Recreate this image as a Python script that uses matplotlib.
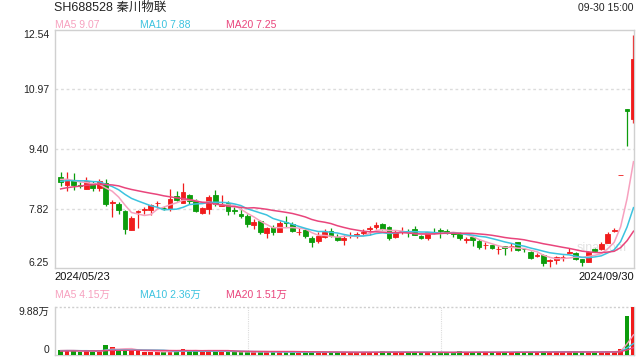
import matplotlib
matplotlib.use("Agg")
import matplotlib.pyplot as plt
import numpy as np
import pandas as pd

plt.rcParams['font.family'] = ['Liberation Sans', 'Noto Sans CJK SC', 'DejaVu Sans']

# ---- data ----
title = "SH688528 秦川物联"
stamp = "09-30 15:00"
first_date, last_date = "2024/05/23", "2024/09/30"

opens = np.array([
    8.66, 8.44, 8.57, 8.44, 8.34, 8.49, 8.36, 8.50, 7.98, 7.95,
    7.75, 7.26, 7.73, 7.78, 7.78, 7.96, 7.84, 7.82, 8.15, 7.98,
    8.17, 8.02, 7.71, 7.80, 8.17, 7.89, 7.97, 7.77, 7.67, 7.62,
    7.38, 7.48, 7.17, 7.34, 7.20, 7.46, 7.41, 7.19, 7.25, 7.04,
    6.97, 7.08, 7.23, 7.07, 6.99, 7.12, 7.13, 7.18, 7.27, 7.34,
    7.40, 7.34, 7.07, 7.22, 7.22, 7.27, 7.10, 7.05, 7.19, 7.25,
    7.22, 7.17, 7.15, 7.00, 7.06, 6.96, 6.85, 6.85, 6.74, 6.82,
    6.83, 6.94, 6.75, 6.66, 6.58, 6.59, 6.43, 6.46, 6.53, 6.64,
    6.64, 6.49, 6.42, 6.76, 6.75, 6.92, 7.24, 8.71, 10.45, 10.20])
highs = np.array([
    8.79, 8.80, 8.75, 8.52, 8.66, 8.55, 8.60, 8.60, 8.04, 8.00,
    7.78, 7.62, 7.78, 7.85, 7.95, 8.02, 7.89, 8.34, 8.28, 8.50,
    8.21, 8.08, 7.87, 8.19, 8.32, 8.17, 8.02, 7.87, 7.84, 7.67,
    7.54, 7.51, 7.34, 7.38, 7.48, 7.62, 7.47, 7.31, 7.29, 7.10,
    7.20, 7.27, 7.32, 7.14, 7.12, 7.19, 7.21, 7.27, 7.36, 7.47,
    7.43, 7.36, 7.25, 7.34, 7.27, 7.36, 7.12, 7.21, 7.31, 7.30,
    7.29, 7.21, 7.19, 7.08, 7.06, 7.01, 6.94, 6.87, 6.84, 6.84,
    6.92, 6.94, 6.79, 6.70, 6.64, 6.62, 6.50, 6.57, 6.59, 6.77,
    6.66, 6.50, 6.70, 6.78, 6.94, 7.19, 7.32, 8.71, 10.45, 12.41])
lows = np.array([
    8.41, 8.28, 8.31, 8.36, 8.33, 8.28, 8.29, 7.89, 7.60, 7.67,
    7.16, 7.26, 7.31, 7.67, 7.64, 7.84, 7.78, 7.76, 8.01, 7.97,
    7.93, 7.72, 7.69, 7.69, 7.90, 7.89, 7.65, 7.69, 7.58, 7.34,
    7.27, 7.14, 7.03, 7.13, 7.19, 7.34, 7.19, 7.13, 7.05, 6.81,
    6.92, 7.05, 7.07, 6.97, 6.86, 7.04, 7.05, 7.12, 7.12, 7.29,
    7.26, 7.00, 7.05, 7.16, 7.08, 7.12, 7.02, 6.99, 7.16, 7.03,
    7.16, 7.08, 6.98, 6.92, 6.84, 6.75, 6.75, 6.75, 6.62, 6.59,
    6.70, 6.69, 6.68, 6.49, 6.53, 6.31, 6.28, 6.35, 6.44, 6.64,
    6.46, 6.31, 6.40, 6.66, 6.73, 6.90, 7.19, 8.71, 9.48, 10.09])
closes = np.array([
    8.52, 8.61, 8.44, 8.43, 8.55, 8.36, 8.54, 7.95, 8.00, 7.78,
    7.29, 7.56, 7.76, 7.80, 7.91, 7.98, 7.83, 8.08, 8.06, 8.26,
    8.01, 7.75, 7.83, 8.13, 7.95, 7.94, 7.75, 7.76, 7.62, 7.41,
    7.47, 7.20, 7.30, 7.19, 7.43, 7.45, 7.23, 7.21, 7.10, 6.94,
    7.10, 7.20, 7.10, 6.99, 7.05, 7.13, 7.15, 7.19, 7.31, 7.39,
    7.29, 7.03, 7.19, 7.23, 7.21, 7.13, 7.04, 7.19, 7.18, 7.24,
    7.21, 7.16, 7.05, 7.01, 6.99, 6.81, 6.86, 6.78, 6.75, 6.77,
    6.84, 6.73, 6.74, 6.51, 6.59, 6.37, 6.45, 6.55, 6.54, 6.66,
    6.49, 6.42, 6.66, 6.70, 6.88, 7.14, 7.26, 8.71, 10.41, 11.78])
# closes before 2024/05/23, only needed for the moving averages
pre_closes = np.array([7.95, 8.00, 8.05, 8.10, 8.12, 8.15, 8.18, 8.22, 8.28, 8.35,
                       8.40, 8.45, 8.48, 8.55, 8.57, 8.58, 8.62, 8.60, 8.63])

# volume in 万手
volumes = np.array([
    0.95, 1.05, 0.85, 0.65, 0.80, 0.70, 0.75, 2.10, 1.65, 0.85,
    1.10, 0.90, 0.80, 0.65, 0.70, 0.60, 0.55, 0.95, 0.75, 1.30,
    0.75, 0.85, 0.60, 0.95, 0.80, 0.65, 0.70, 0.55, 0.60, 0.75,
    0.60, 0.70, 0.60, 0.55, 0.65, 0.55, 0.60, 0.50, 0.55, 0.65,
    0.60, 0.55, 0.50, 0.55, 0.55, 0.50, 0.50, 0.55, 0.60, 0.65,
    0.75, 0.70, 0.55, 0.50, 0.55, 0.55, 0.50, 0.55, 0.50, 0.55,
    0.50, 0.50, 0.75, 0.50, 0.55, 0.65, 0.55, 0.50, 0.60, 0.60,
    0.60, 0.72, 0.55, 0.70, 0.58, 0.75, 0.68, 0.62, 0.66, 0.74,
    0.52, 0.55, 0.62, 0.55, 0.61, 0.75, 0.85, 1.15, 8.12, 9.88])
pre_volumes = np.array([0.70, 0.65, 0.80, 0.75, 0.60, 0.70, 0.85, 0.75, 0.70, 0.80,
                        0.90, 0.85, 0.75, 0.80, 0.95, 0.85, 0.90, 1.00, 0.95])

price_ticks = [12.54, 10.97, 9.40, 7.82, 6.25]
vol_ticks = [9.88, 0]
ma_periods = [5, 10, 20]
ma_colors = ['#f7a1bf', '#3cc3df', '#e9457c']
price_ma_last = [9.07, 7.88, 7.25]
vol_ma_last = [4.15, 2.36, 1.51]

RED, GREEN = '#f01c1c', '#0c9c0c'
GRID = '#dcdcdc'
BORDER = '#d0d0d0'

# ---- figure ----
fig = plt.figure(figsize=(6.4, 3.6), dpi=100)
W, H = 640, 360
L, R = 54.5, 634
ax = fig.add_axes([L / W, 1 - 268 / H, (R - L) / W, 238 / H])
vax = fig.add_axes([L / W, 1 - 355 / H, (R - L) / W, 48 / H])

x = np.arange(len(closes))
col = np.where(closes >= opens, RED, GREEN)

# candles
ax.vlines(x, lows, highs, colors=col, lw=0.9, zorder=2)
ax.bar(x, np.abs(closes - opens), bottom=np.minimum(opens, closes), width=0.74,
       color=col, edgecolor=col, linewidth=0.6, zorder=3)

all_close = pd.Series(np.r_[pre_closes, closes])
all_vol = pd.Series(np.r_[pre_volumes, volumes])
n0 = len(pre_closes)
for p, c in zip(ma_periods, ma_colors):
    ax.plot(x, all_close.rolling(p).mean().values[n0:], color=c, lw=1.1, zorder=4)
    vax.plot(x, all_vol.rolling(p).mean().values[n0:], color=c, lw=1.0, zorder=4)

vax.bar(x, volumes, width=0.74, color=col, linewidth=0, zorder=3)

for a in (ax, vax):
    a.set_xlim(-0.96, 89.08)
    a.set_xticks([])
    for s in a.spines.values():
        s.set_color(BORDER)
        s.set_linewidth(1)
    a.tick_params(axis='y', length=0, labelsize=7.5, labelcolor='#222', pad=4)
vax.spines['top'].set_visible(False)

ax.set_ylim(6.25, 12.54)
ax.set_yticks(price_ticks)
ax.set_yticklabels([f"{v:.2f}" for v in price_ticks])
for v in price_ticks[1:-1]:
    ax.axhline(v, color=GRID, lw=1, ls=(0, (2, 2)), zorder=1)
tl = ax.get_yticklabels()
tl[0].set_va('top')
tl[-1].set_va('bottom')

vax.set_ylim(0, 9.88)
vax.set_yticks(vol_ticks)
vax.set_yticklabels(["9.88万", "0"])
vl = vax.get_yticklabels()
vl[0].set_va('top')
vl[1].set_va('bottom')
vax.axhline(9.88, color='#cfcfcf', lw=1, ls=(0, (1.5, 1.5)), zorder=1, clip_on=False)
for f in (1 / 3, 2 / 3):
    vax.axvline(-0.96 + f * (89.08 + 0.96), color=GRID, lw=0.8, ls=(0, (1, 1)), zorder=1)

# watermark
ax.text(0.945, 0.085, "sina.com", transform=ax.transAxes, ha='center', va='center',
        fontsize=9, color='#e2e2e2', zorder=1)

# texts
fig.text(L / W, 1 - 8 / H, title, fontsize=9, color='#222', va='center')
fig.text(R / W, 1 - 8 / H, stamp, fontsize=7.5, color='#222', va='center', ha='right')
ma_x = [55, 140.5, 225.5]
for xx, p, c, v in zip(ma_x, ma_periods, ma_colors, price_ma_last):
    fig.text(xx / W, 1 - 24.5 / H, f"MA{p} {v:.2f}", fontsize=7.5, color=c, va='center')
for xx, p, c, v in zip(ma_x, ma_periods, ma_colors, vol_ma_last):
    fig.text(xx / W, 1 - 295 / H, f"MA{p} {v:.2f}万", fontsize=7.5, color=c, va='center')
fig.text(L / W, 1 - 277.5 / H, first_date, fontsize=8, color='#111', va='center')
fig.text(R / W, 1 - 277.5 / H, last_date, fontsize=8, color='#111', va='center', ha='right')

fig.savefig("out.png", dpi=100)
